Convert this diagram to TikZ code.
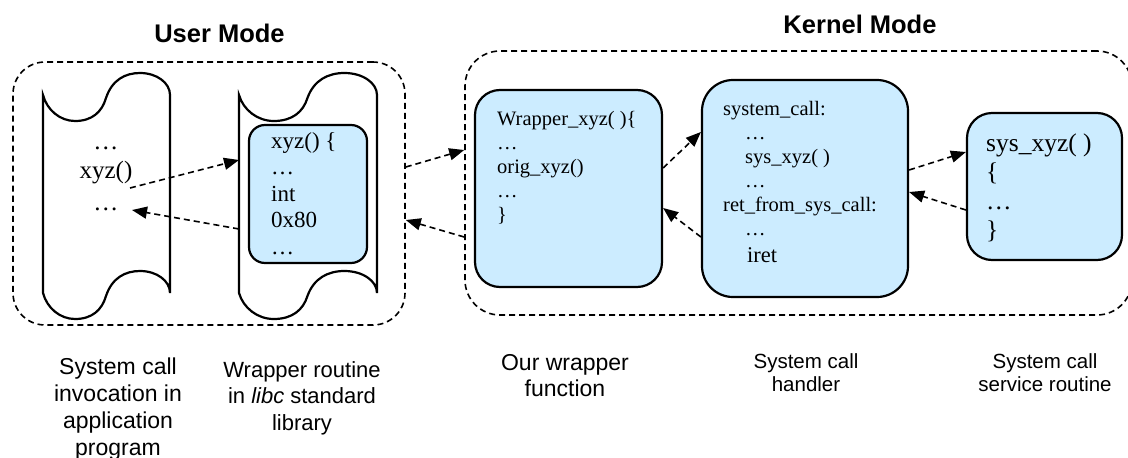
\documentclass[tikz,border=0pt]{standalone}
\usepackage{fontspec}
\setmainfont{Liberation Serif}
\newfontfamily\labelfont{Liberation Sans}
\usetikzlibrary{arrows.meta}
\definecolor{boxblue}{RGB}{204,236,255}
\newcommand\tapepath{(0,95) -- (0,293)
  .. controls (4,308) and (17,319) .. (32,319)
  .. controls (49,319) and (59,310) .. (63,296)
  .. controls (69,278) and (82,271) .. (97,271)
  .. controls (114,271) and (127,281) .. (127,293)
  -- (127,95)
  .. controls (127,83) and (114,73) .. (97,73)
  .. controls (82,73) and (69,80) .. (63,98)
  .. controls (59,112) and (49,121) .. (32,121)
  .. controls (17,121) and (4,110) .. (0,95) -- cycle}
\begin{document}
\begin{tikzpicture}[x=1pt,y=-1pt,
  modebox/.style={draw, line width=1.6pt, dash pattern=on 6pt off 4pt, rounded corners=#1, inner sep=0pt},
  codebox/.style={draw, line width=2.2pt, fill=boxblue, rounded corners=#1, inner sep=0pt},
  tapeshape/.style={draw, line width=2.2pt, fill=white},
  call/.style={line width=1.6pt, dash pattern=on 6pt off 4pt, -{Triangle[length=15pt,width=12pt]}},
  codetext/.style={inner sep=0pt, anchor=base west},
  lbl/.style={inner sep=0pt, anchor=base, font=\labelfont#1},
  title/.style={inner sep=0pt, anchor=base, font=\labelfont\bfseries\fontsize{25.5}{30}\selectfont}
]
\useasboundingbox (0,0) rectangle (1128,458);

% mode regions
\node[modebox=35, minimum width=667pt, minimum height=264pt] (kernel) at (798.5,183) {};
\node[modebox=32, minimum width=392pt, minimum height=263pt] (user) at (209,193.5) {};
\node[title] (usertitle) at (219.5,42) {User Mode};
\node[title] (kerneltitle) at (860,33) {Kernel Mode};

% tapes
\begin{scope}[shift={(43,0)}]
  \draw[tapeshape] \tapepath;
\end{scope}
\begin{scope}[shift={(239,0)}, xscale=1.0866]
  \draw[tapeshape] \tapepath;
\end{scope}

% code boxes
\node[codebox=16, minimum width=118pt, minimum height=138pt] (libc) at (308,194) {};
\node[codebox=25, minimum width=187pt, minimum height=197pt] (wrap) at (568.5,188.5) {};
\node[codebox=31, minimum width=206pt, minimum height=217pt] (handler) at (805,188.5) {};
\node[codebox=25, minimum width=155pt, minimum height=147pt] (sys) at (1044.5,186.5) {};

% code texts
\node[inner sep=0pt, anchor=base, font=\fontsize{25}{28.5}\selectfont] (apptext) at (106,149.5)
  {\begin{tabular}[t]{@{}c@{}}…\\xyz()\\[3.5pt]…\end{tabular}};
\node[codetext, font=\fontsize{23}{26.6}\selectfont] (libctext) at (271,148)
  {\begin{tabular}[t]{@{}l@{}}xyz() \{\\…\\int\\0x80\\…\end{tabular}};
\node[codetext, font=\fontsize{20.5}{24}\selectfont] (wraptext) at (497,125)
  {\begin{tabular}[t]{@{}l@{}}Wrapper\_xyz( )\{\\…\\orig\_xyz()\\…\\\}\end{tabular}};
\node[codetext, font=\fontsize{20.5}{24}\selectfont] (handlertext) at (723,115)
  {\begin{tabular}[t]{@{}l@{}}system\_call:\\\hspace{22pt}…\\\hspace{22pt}sys\_xyz( )\\\hspace{22pt}…\\ret\_from\_sys\_call:\\\hspace{22pt}…\\[3pt]\hspace{24pt}{\fontsize{22.5}{24}\selectfont iret}\end{tabular}};
\node[codetext, font=\fontsize{25.5}{29.3}\selectfont] (systext) at (986,151)
  {\begin{tabular}[t]{@{}l@{}}sys\_xyz( )\\\{\\…\\\}\end{tabular}};

% captions
\node[lbl=\fontsize{23}{27}\selectfont] (applabel) at (118,374)
  {\begin{tabular}[t]{@{}c@{}}System call\\invocation in\\application\\program\end{tabular}};
\node[lbl=\fontsize{22}{26.5}\selectfont] (libclabel) at (302,377)
  {\begin{tabular}[t]{@{}c@{}}Wrapper routine\\in \textit{libc} standard\\library\end{tabular}};
\node[lbl=\fontsize{23}{26}\selectfont] (wraplabel) at (565,370)
  {\begin{tabular}[t]{@{}c@{}}Our wrapper\\function\end{tabular}};
\node[lbl=\fontsize{20.5}{23.3}\selectfont] (handlerlabel) at (806,368)
  {\begin{tabular}[t]{@{}c@{}}System call\\handler\end{tabular}};
\node[lbl=\fontsize{20.5}{23.3}\selectfont] (syslabel) at (1045,368)
  {\begin{tabular}[t]{@{}c@{}}System call\\service routine\end{tabular}};

% connector end points
\coordinate (xyzout) at (130,188);
\coordinate (xyzret) at (132,210);
\coordinate (tapein) at (239,160);
\coordinate (tapeout) at (239,229);

% connectors
\draw[call] (xyzout) -- (tapein);
\draw[call] (tapeout) -- (xyzret);
\draw[call] (user.east |- 0,167) -- (kernel.west |- 0,150);
\draw[call] (kernel.west |- 0,237) -- (user.east |- 0,220);
\draw[call] (wrap.east |- 0,168) -- (handler.west |- 0,132);
\draw[call] (handler.west |- 0,237) -- (wrap.east |- 0,208);
\draw[call] (handler.east |- 0,170) -- (sys.west |- 0,152);
\draw[call] (sys.west |- 0,210) -- (handler.east |- 0,192);
\end{tikzpicture}
\end{document}
